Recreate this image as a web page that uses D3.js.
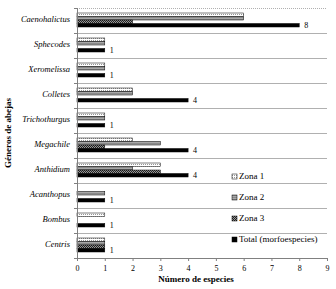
<!DOCTYPE html>
<html>
<head>
<meta charset="utf-8">
<script src="https://cdn.jsdelivr.net/npm/d3@7"></script>
<style>
  body { margin: 0; background: #fff; }
  svg { font-family: "Liberation Serif", "DejaVu Serif", serif; }
</style>
</head>
<body>
<svg id="chart" width="336" height="289"></svg>
<script>
// data
var generos = ["Caenohalictus", "Sphecodes", "Xeromelissa", "Colletes", "Trichothurgus",
               "Megachile", "Anthidium", "Acanthopus", "Bombus", "Centris"];
var series = ["Zona 1", "Zona 2", "Zona 3", "Total (morfoespecies)"];
var zona1 = [6, 1, 1, 2, 1, 2, 3, 0, 1, 1];
var zona2 = [6, 1, 1, 2, 1, 3, 2, 1, 0, 1];
var zona3 = [2, 0, 0, 0, 0, 1, 3, 0, 0, 1];
var total = [8, 1, 1, 4, 1, 4, 4, 1, 1, 1];
var xTicks = [0, 1, 2, 3, 4, 5, 6, 7, 8, 9];

var margin = {top: 8, right: 9, bottom: 31, left: 77},
    width = 336 - margin.left - margin.right,
    height = 289 - margin.top - margin.bottom;

var svg = d3.select("#chart");

// fill patterns like the office chart
var defs = svg.append("defs");
var p1 = defs.append("pattern").attr("id", "pz1").attr("patternUnits", "userSpaceOnUse")
    .attr("width", 2).attr("height", 2);
p1.append("rect").attr("width", 2).attr("height", 2).attr("fill", "#fff");
p1.append("rect").attr("width", 1).attr("height", 1).attr("fill", "#999");
var p2 = defs.append("pattern").attr("id", "pz2").attr("patternUnits", "userSpaceOnUse")
    .attr("width", 2).attr("height", 2);
p2.append("rect").attr("width", 2).attr("height", 2).attr("fill", "#8a8a8a");
p2.append("rect").attr("width", 2).attr("height", 1).attr("fill", "#a8a8a8");
var p3 = defs.append("pattern").attr("id", "pz3").attr("patternUnits", "userSpaceOnUse")
    .attr("width", 2).attr("height", 2);
p3.append("rect").attr("width", 2).attr("height", 2).attr("fill", "#222");
p3.append("rect").attr("width", 1).attr("height", 1).attr("fill", "#999");
p3.append("rect").attr("x", 1).attr("y", 1).attr("width", 1).attr("height", 1).attr("fill", "#999");

var fills = ["url(#pz1)", "url(#pz2)", "url(#pz3)", "#000"];

var g = svg.append("g")
    .attr("transform", "translate(" + margin.left + "," + margin.top + ")");

var x = d3.scaleLinear().domain([0, 9]).range([0, width]);
var y = d3.scaleBand().domain(generos).range([0, height]).paddingInner(0).paddingOuter(0);
var yIn = d3.scaleBand().domain(series).range([y.bandwidth() * 0.2, y.bandwidth() * 0.76]);

// horizontal separators between categories
var seps = d3.range(generos.length + 1).map(function(i) { return i * y.step(); });
g.selectAll("line.sep")
    .data(seps)
  .enter().append("line")
    .attr("class", "sep")
    .attr("x1", 0).attr("x2", width)
    .attr("y1", function(d) { return d + 0.5; })
    .attr("y2", function(d) { return d + 0.5; })
    .attr("stroke", "#b0b0b0")
    .attr("stroke-width", 1)
    .attr("stroke-dasharray", function(d, i) { return i == 0 ? "1,1" : null; });

var rows = [zona1, zona2, zona3, total];
var bars = [];
generos.forEach(function(gen, i) {
  series.forEach(function(s, j) {
    bars.push({gen: gen, s: s, j: j, v: rows[j][i]});
  });
});

g.selectAll("rect.bar")
    .data(bars.filter(function(d) { return d.v > 0; }))
  .enter().append("rect")
    .attr("class", "bar")
    .attr("x", x(0))
    .attr("y", function(d) { return y(d.gen) + yIn(d.s); })
    .attr("width", function(d) { return x(d.v) - x(0); })
    .attr("height", yIn.bandwidth())
    .attr("fill", function(d) { return fills[d.j]; })
    .attr("stroke", "#000")
    .attr("stroke-width", 0.5);

// labels on the total bars
g.selectAll("text.val")
    .data(total)
  .enter().append("text")
    .attr("class", "val")
    .attr("x", function(d) { return x(d) + 5; })
    .attr("y", function(d, i) { return y(generos[i]) + yIn("Total (morfoespecies)") + yIn.bandwidth() / 2 + 3; })
    .attr("font-size", 8)
    .attr("fill", "#000")
    .text(function(d) { return d; });

// axes
var xAxis = d3.axisBottom(x).tickValues(xTicks).tickSize(3).tickFormat(d3.format("d"));
var gx = g.append("g")
    .attr("transform", "translate(0," + height + ")")
    .call(xAxis);
gx.select(".domain").attr("stroke", "#808080");
gx.selectAll(".tick line").attr("stroke", "#808080");
gx.selectAll("text").attr("font-size", 8).attr("font-family", "Liberation Serif")
    .attr("fill", "#000").attr("dy", "0.9em");

var gy = g.append("g");
gy.append("line").attr("x1", 0.5).attr("x2", 0.5).attr("y1", 0).attr("y2", height)
    .attr("stroke", "#808080");
gy.selectAll("line.yt")
    .data(seps)
  .enter().append("line")
    .attr("class", "yt")
    .attr("x1", -3).attr("x2", 0)
    .attr("y1", function(d) { return d + 0.5; })
    .attr("y2", function(d) { return d + 0.5; })
    .attr("stroke", "#808080");
gy.selectAll("text.cat")
    .data(generos)
  .enter().append("text")
    .attr("class", "cat")
    .attr("x", -7)
    .attr("y", function(d) { return y(d) + y.bandwidth() / 2 - 1; })
    .attr("dy", "0.35em")
    .attr("text-anchor", "end")
    .attr("font-size", 8.5)
    .attr("font-style", "italic")
    .attr("fill", "#000")
    .text(function(d) { return d; });

// legend
var leg = g.append("g").attr("transform", "translate(155,171)");
var li = leg.selectAll("g").data(series).enter().append("g")
    .attr("transform", function(d, i) { return "translate(0," + (i * 21) + ")"; });
li.append("rect").attr("x", 0).attr("y", -5).attr("width", 5).attr("height", 5)
    .attr("fill", function(d, i) { return fills[i]; })
    .attr("stroke", "#000").attr("stroke-width", 0.5);
li.append("text").attr("x", 7).attr("y", 0).attr("font-size", 9).attr("fill", "#000")
    .text(function(d) { return d; });

// axis titles
svg.append("text")
    .attr("x", margin.left + width / 2 - 6)
    .attr("y", 282)
    .attr("text-anchor", "middle")
    .attr("font-size", 9)
    .attr("font-weight", "bold")
    .text("Número de especies");

svg.append("text")
    .attr("transform", "translate(11," + (margin.top + height / 2) + ") rotate(-90)")
    .attr("text-anchor", "middle")
    .attr("font-size", 9)
    .attr("font-weight", "bold")
    .text("Géneros de abejas");
</script>
</body>
</html>
